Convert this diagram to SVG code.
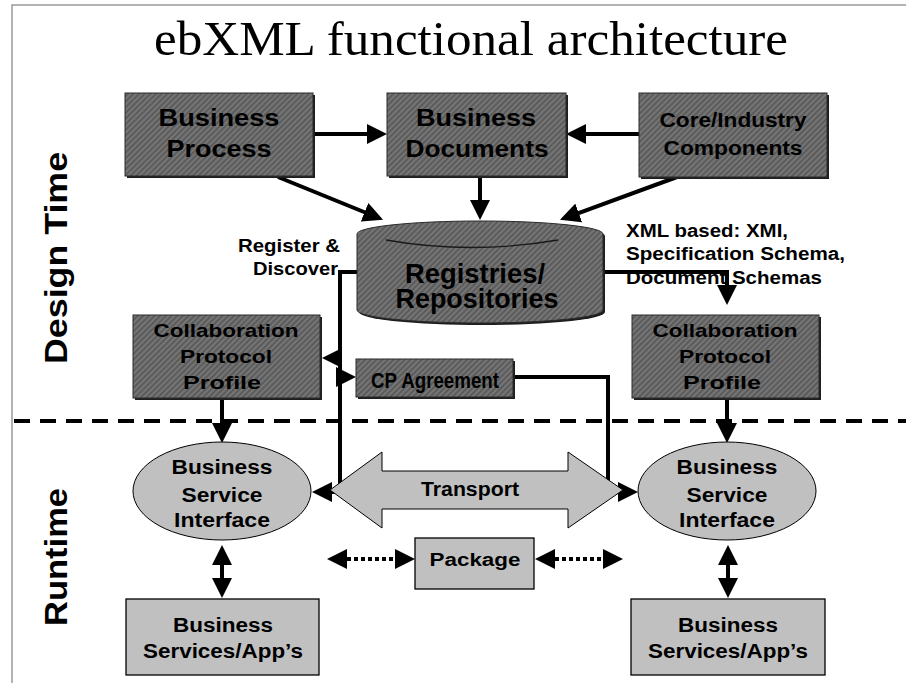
<svg xmlns="http://www.w3.org/2000/svg" width="906" height="683" viewBox="0 0 906 683">
<style>
.t{font-family:"Liberation Sans",Arial,sans-serif;font-weight:bold;fill:#000;text-anchor:middle}
.dark{fill:url(#hatch);stroke:#2a2a2a;stroke-width:1}
.shadow{fill:#1e1e1e}
.light{fill:#c0c0c0;stroke:#000;stroke-width:1.3}
.con{fill:none;stroke:#000;stroke-width:4}
.arr{marker-end:url(#ah)}
.dbl{marker-start:url(#ah);marker-end:url(#ah)}
.dot{stroke-dasharray:4 3}
</style>
<defs>
<pattern id="hatch" patternUnits="userSpaceOnUse" width="4" height="4" patternTransform="rotate(45)">
<rect width="4" height="4" fill="#6d6d6d"/>
<rect width="1.3" height="4" fill="#555"/>
<rect x="2.2" width="0.8" height="4" fill="#7c7c7c"/>
</pattern>
<marker id="ah" markerUnits="userSpaceOnUse" markerWidth="20" markerHeight="20" refX="14" refY="10" orient="auto-start-reverse">
<path d="M0,0 L20,10 L0,20 z" fill="#000"/>
</marker>
</defs>
<rect width="906" height="683" fill="#fff"/>
<path d="M12,683 V5 H906" fill="none" stroke="#9a9a9a" stroke-width="1.5"/>
<text x="471" y="55" font-family="'Liberation Serif','Times New Roman',serif" font-size="48" textLength="634" lengthAdjust="spacingAndGlyphs" text-anchor="middle">ebXML functional architecture</text>
<text class="t" transform="translate(67,258) rotate(-90)" font-size="32" textLength="212" lengthAdjust="spacingAndGlyphs">Design Time</text>
<text class="t" transform="translate(67,557) rotate(-90)" font-size="32" textLength="138" lengthAdjust="spacingAndGlyphs">Runtime</text>
<line x1="14" y1="421" x2="906" y2="421" stroke="#000" stroke-width="4" stroke-dasharray="16 10"/>

<g id="connectors">
<line class="con arr" x1="313" y1="134" x2="381" y2="134"/>
<line class="con arr" x1="639" y1="134" x2="572" y2="134"/>
<line class="con arr" x1="480" y1="176" x2="480" y2="214"/>
<line class="con arr" x1="278" y1="177" x2="377.5" y2="217.5"/>
<line class="con arr" x1="677" y1="177" x2="565.6" y2="217.8"/>
<path class="con arr" d="M357,272 H340 V492 H318"/>
<line class="con arr" x1="340" y1="358" x2="328" y2="358"/>
<line class="con arr" x1="340" y1="377" x2="350" y2="377"/>
<path class="con arr" d="M513,377 H608 V492 H632"/>
<path class="con arr" d="M603,272 H727 V299"/>
<line class="con arr" x1="222" y1="398" x2="222" y2="437"/>
<line class="con arr" x1="727" y1="398" x2="727" y2="437"/>
<line class="con dbl dot" x1="333" y1="559" x2="409" y2="559"/>
<line class="con dbl dot" x1="541" y1="559" x2="617" y2="559"/>
<line class="con dbl" x1="222" y1="551" x2="222" y2="592"/>
<line class="con dbl" x1="728" y1="551" x2="728" y2="592"/>
</g>

<g id="business-process">
<rect class="shadow" x="127" y="95" width="188" height="83"/>
<rect class="dark" x="125" y="93" width="188" height="83"/>
<text class="t" x="219" y="126" font-size="23" textLength="121" lengthAdjust="spacingAndGlyphs">Business</text>
<text class="t" x="219" y="157" font-size="23" textLength="105" lengthAdjust="spacingAndGlyphs">Process</text>
</g>
<g id="business-documents">
<rect class="shadow" x="389" y="95" width="179" height="83"/>
<rect class="dark" x="387" y="93" width="179" height="83"/>
<text class="t" x="476" y="126" font-size="23" textLength="120" lengthAdjust="spacingAndGlyphs">Business</text>
<text class="t" x="477" y="157" font-size="23" textLength="143" lengthAdjust="spacingAndGlyphs">Documents</text>
</g>
<g id="core-industry-components">
<rect class="shadow" x="641" y="95" width="188" height="84"/>
<rect class="dark" x="639" y="93" width="188" height="84"/>
<text class="t" x="733" y="127" font-size="20" textLength="147" lengthAdjust="spacingAndGlyphs">Core/Industry</text>
<text class="t" x="733" y="155" font-size="20" textLength="139" lengthAdjust="spacingAndGlyphs">Components</text>
</g>
<g id="registries">
<path d="M357,234 V310 A123,13 0 0 0 603,310 V234 A123,13 0 0 0 357,234 Z" fill="#1e1e1e" transform="translate(2,2)"/>
<path class="dark" d="M357,234 V310 A123,13 0 0 0 603,310 V234 A123,13 0 0 0 357,234 Z"/>
<path d="M386,240 Q472,255 558,240" fill="none" stroke="#1a1a1a" stroke-width="1.3"/>
<text class="t" x="475" y="283" font-size="28" textLength="140" lengthAdjust="spacingAndGlyphs">Registries/</text>
<text class="t" x="477" y="308" font-size="28" textLength="163" lengthAdjust="spacingAndGlyphs">Repositories</text>
</g>
<g id="register-label">
<text class="t" x="340" y="252" font-size="18" text-anchor="end" style="text-anchor:end" textLength="102" lengthAdjust="spacingAndGlyphs">Register &amp;</text>
<text class="t" x="338" y="275" font-size="18" style="text-anchor:end" textLength="85" lengthAdjust="spacingAndGlyphs">Discover</text>
</g>
<g id="xml-label">
<text class="t" x="626" y="237" font-size="18" style="text-anchor:start" textLength="162" lengthAdjust="spacingAndGlyphs">XML based: XMI,</text>
<text class="t" x="626" y="260" font-size="18" style="text-anchor:start" textLength="219" lengthAdjust="spacingAndGlyphs">Specification Schema,</text>
<text class="t" x="626" y="284" font-size="18" style="text-anchor:start" textLength="196" lengthAdjust="spacingAndGlyphs">Document Schemas</text>
</g>
<g id="cpp-left">
<rect class="shadow" x="135" y="317" width="187" height="83"/>
<rect class="dark" x="133" y="315" width="187" height="83"/>
<text class="t" x="226" y="337" font-size="19" textLength="145" lengthAdjust="spacingAndGlyphs">Collaboration</text>
<text class="t" x="226" y="363" font-size="19" textLength="92" lengthAdjust="spacingAndGlyphs">Protocol</text>
<text class="t" x="222" y="389" font-size="19" textLength="78" lengthAdjust="spacingAndGlyphs">Profile</text>
</g>
<g id="cp-agreement">
<rect class="shadow" x="358" y="361" width="157" height="38"/>
<rect class="dark" x="356" y="359" width="157" height="38"/>
<text class="t" x="435" y="388" font-size="22" textLength="128" lengthAdjust="spacingAndGlyphs">CP Agreement</text>
</g>
<g id="cpp-right">
<rect class="shadow" x="634" y="317" width="187" height="83"/>
<rect class="dark" x="632" y="315" width="187" height="83"/>
<text class="t" x="725" y="337" font-size="19" textLength="145" lengthAdjust="spacingAndGlyphs">Collaboration</text>
<text class="t" x="725" y="363" font-size="19" textLength="92" lengthAdjust="spacingAndGlyphs">Protocol</text>
<text class="t" x="722" y="389" font-size="19" textLength="78" lengthAdjust="spacingAndGlyphs">Profile</text>
</g>
<g id="transport">
<polygon class="light" points="330,490 382,452 382,471 568,471 568,452 623,490 568,528 568,509 382,509 382,528" style="stroke-width:1"/>
<text class="t" x="470" y="496" font-size="20" textLength="98" lengthAdjust="spacingAndGlyphs">Transport</text>
</g>
<g id="bsi-left">
<ellipse class="light" cx="222" cy="491" rx="89" ry="49" style="stroke-width:1"/>
<text class="t" x="222" y="474" font-size="19.5" textLength="101" lengthAdjust="spacingAndGlyphs">Business</text>
<text class="t" x="222" y="502" font-size="19.5" textLength="81" lengthAdjust="spacingAndGlyphs">Service</text>
<text class="t" x="222" y="527" font-size="19.5" textLength="96" lengthAdjust="spacingAndGlyphs">Interface</text>
</g>
<g id="bsi-right">
<ellipse class="light" cx="727" cy="491" rx="89" ry="49" style="stroke-width:1"/>
<text class="t" x="727" y="474" font-size="19.5" textLength="101" lengthAdjust="spacingAndGlyphs">Business</text>
<text class="t" x="727" y="502" font-size="19.5" textLength="81" lengthAdjust="spacingAndGlyphs">Service</text>
<text class="t" x="727" y="527" font-size="19.5" textLength="96" lengthAdjust="spacingAndGlyphs">Interface</text>
</g>
<g id="package">
<rect class="light" x="415" y="538" width="119" height="51"/>
<text class="t" x="475" y="566" font-size="18" textLength="91" lengthAdjust="spacingAndGlyphs">Package</text>
</g>
<g id="services-left">
<rect class="light" x="126" y="599" width="193" height="76"/>
<text class="t" x="223" y="632" font-size="20" textLength="100" lengthAdjust="spacingAndGlyphs">Business</text>
<text class="t" x="223" y="658" font-size="20" textLength="160" lengthAdjust="spacingAndGlyphs">Services/App’s</text>
</g>
<g id="services-right">
<rect class="light" x="631" y="599" width="194" height="76"/>
<text class="t" x="728" y="632" font-size="20" textLength="100" lengthAdjust="spacingAndGlyphs">Business</text>
<text class="t" x="728" y="658" font-size="20" textLength="160" lengthAdjust="spacingAndGlyphs">Services/App’s</text>
</g>
</svg>
